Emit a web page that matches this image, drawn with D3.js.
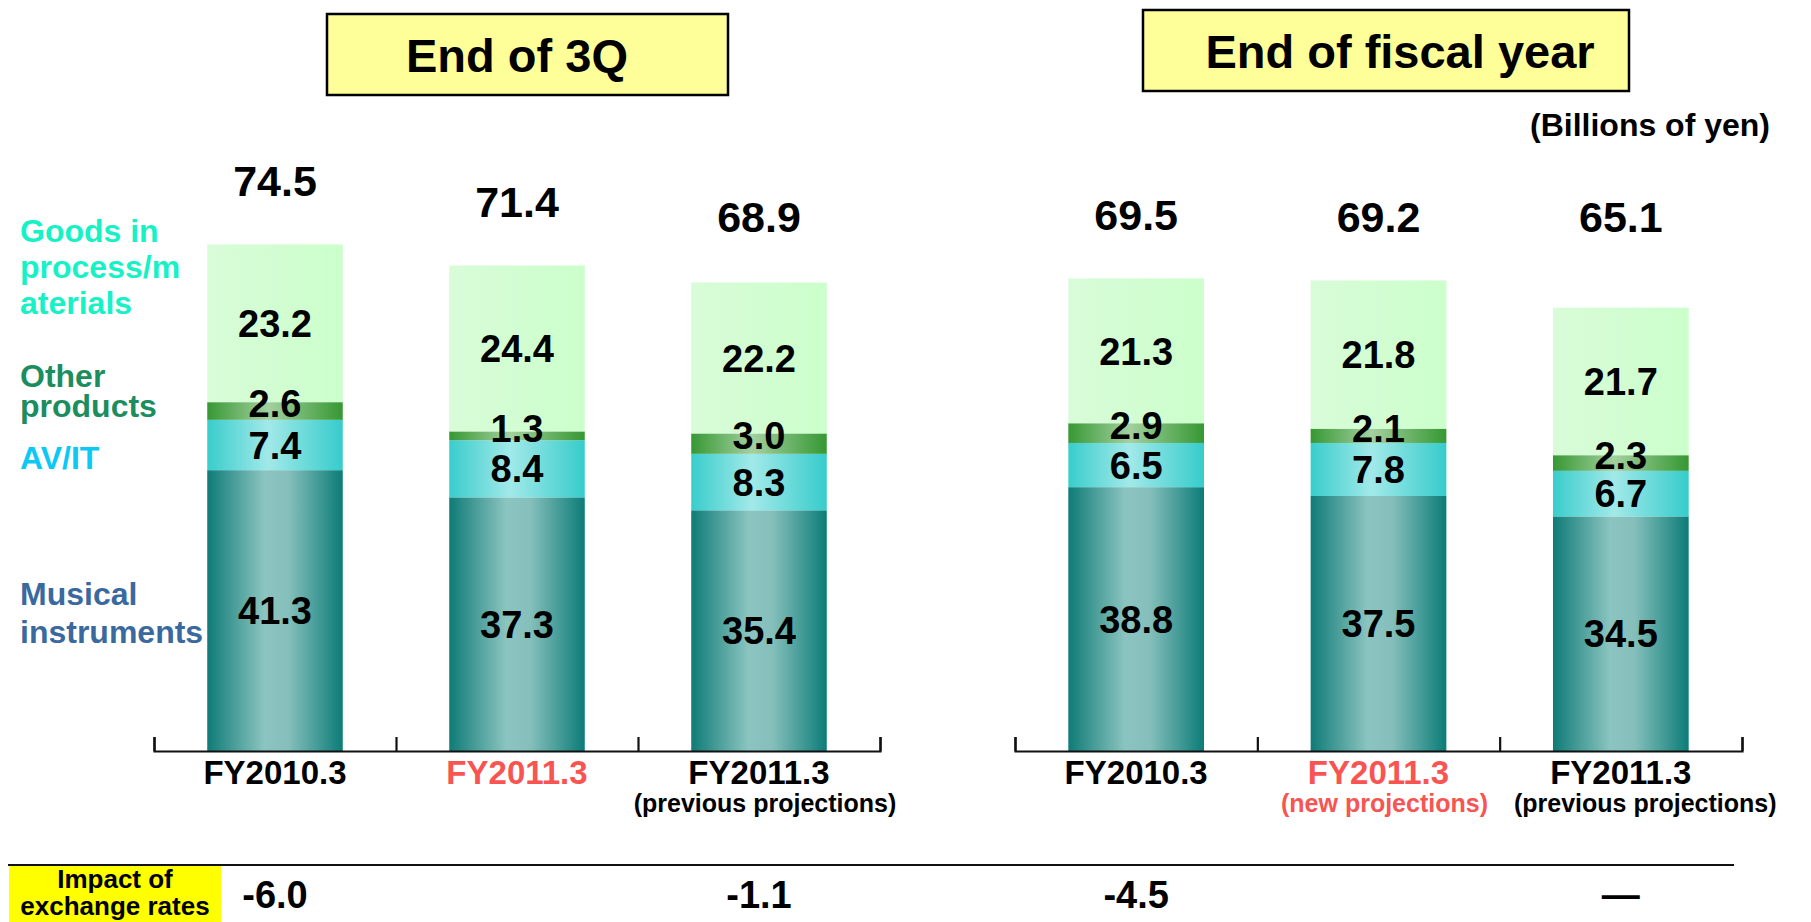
<!DOCTYPE html>
<html>
<head>
<meta charset="utf-8">
<script src="https://cdn.jsdelivr.net/npm/d3@7"></script>
<style>
body { margin: 0; background: #fff; }
text { font-family: "Liberation Sans", Arial, sans-serif; font-weight: bold; }
</style>
</head>
<body>
<svg id="chart" width="1811" height="922"></svg>
<script>
// inventories, billions of yen
var seriesKeys = ["musical", "avit", "other", "goods"];
var legendLines = [["Goods in", "process/m", "aterials"], ["Other", "products"], ["AV/IT"], ["Musical", "instruments"]];
var legendKeys = ["goods", "other", "avit", "musical"];

var q3Labels = ["FY2010.3", "FY2011.3", "FY2011.3"];
var q3Sub = ["", "", "(previous projections)"];
var q3Musical = [41.3, 37.3, 35.4];
var q3AvIt = [7.4, 8.4, 8.3];
var q3Other = [2.6, 1.3, 3.0];
var q3Goods = [23.2, 24.4, 22.2];
var q3Totals = [74.5, 71.4, 68.9];
var q3Impact = ["-6.0", "", "-1.1"];

var fyLabels = ["FY2010.3", "FY2011.3", "FY2011.3"];
var fySub = ["", "(new projections)", "(previous projections)"];
var fyMusical = [38.8, 37.5, 34.5];
var fyAvIt = [6.5, 7.8, 6.7];
var fyOther = [2.9, 2.1, 2.3];
var fyGoods = [21.3, 21.8, 21.7];
var fyTotals = [69.5, 69.2, 65.1];
var fyImpact = ["-4.5", "", "\u2014"];

var highlighted = [false, true, false];

var BASE_Y = 751;
var RED = "#F85452";

var svg = d3.select("#chart");
var defs = svg.append("defs");

function addGradient(id, stops) {

	var grad = defs.append("linearGradient").attr("id", id) //
	.attr("x1", "0").attr("x2", "1").attr("y1", "0").attr("y2", "0");

	grad.selectAll("stop").data(stops).enter().append("stop") //
	.attr("offset", function(d) {
		return (d[0]);
	}) //
	.attr("stop-color", function(d) {
		return (d[1]);
	});

}// END: addGradient

addGradient("grad-musical", [ [ 0, "#0F7B77" ], [ 0.42, "#8BC4C0" ], [ 0.6, "#85BFBB" ], [ 1, "#0C7C78" ] ]);
addGradient("grad-avit", [ [ 0, "#38CDCC" ], [ 0.45, "#A2E9E9" ], [ 1, "#36CCCB" ] ]);
addGradient("grad-other", [ [ 0, "#379834" ], [ 0.45, "#A3D09F" ], [ 1, "#369833" ] ]);
addGradient("grad-goods", [ [ 0, "#D8FCD8" ], [ 0.5, "#D2FDD2" ], [ 1, "#CBFFCB" ] ]);

var legendColors = {
	goods : "#16F2C6",
	other : "#1B8D5F",
	avit : "#0BC8F4",
	musical : "#39699E"
};

// small segments get their label nudged up a little
var labelNudge = {
	musical : 0,
	avit : 0,
	other : -8,
	goods : 0
};

var y = d3.scaleLinear().domain([ 0, 100 ]).range([ BASE_Y, BASE_Y - 680 ]);

var panels = [ {
	title : "End of 3Q",
	box : [ 327, 14, 401, 81 ],
	titleX : 517,
	titleY : 72,
	range : [ 154, 880 ],
	labels : q3Labels,
	sub : q3Sub,
	musical : q3Musical,
	avit : q3AvIt,
	other : q3Other,
	goods : q3Goods,
	totals : q3Totals,
	impact : q3Impact
}, {
	title : "End of fiscal year",
	box : [ 1143, 10, 486, 81 ],
	titleX : 1400,
	titleY : 68,
	range : [ 1015, 1742 ],
	labels : fyLabels,
	sub : fySub,
	musical : fyMusical,
	avit : fyAvIt,
	other : fyOther,
	goods : fyGoods,
	totals : fyTotals,
	impact : fyImpact
} ];

var stack = d3.stack().keys(seriesKeys);

panels.forEach(function(p) {

	var g = svg.append("g");

	// title box
	g.append("rect").attr("x", p.box[0]).attr("y", p.box[1]) //
	.attr("width", p.box[2]).attr("height", p.box[3]) //
	.attr("fill", "#FFFF99").attr("stroke", "#000").attr("stroke-width", 2.5);

	g.append("text").attr("x", p.titleX).attr("y", p.titleY) //
	.attr("text-anchor", "middle").attr("font-size", 47).text(p.title);

	var rows = p.labels.map(function(l, i) {
		return {
			musical : p.musical[i],
			avit : p.avit[i],
			other : p.other[i],
			goods : p.goods[i]
		};
	});

	var x = d3.scaleBand().domain(d3.range(rows.length)).range(p.range) //
	.paddingInner(0.44).paddingOuter(0.22);

	var layers = stack(rows);

	var layer = g.selectAll("g.layer").data(layers).enter().append("g") //
	.attr("class", "layer") //
	.attr("fill", function(d) {
		return ("url(#grad-" + d.key + ")");
	});

	layer.selectAll("rect").data(function(d) {
		return (d);
	}).enter().append("rect") //
	.attr("x", function(d, i) {
		return (x(i));
	}) //
	.attr("width", x.bandwidth()) //
	.attr("y", function(d) {
		return (y(d[1]));
	}) //
	.attr("height", function(d) {
		return (y(d[0]) - y(d[1]));
	});

	// segment values
	layers.forEach(function(ly) {
		g.selectAll(null).data(ly).enter().append("text") //
		.attr("x", function(d, i) {
			return (x(i) + x.bandwidth() / 2);
		}) //
		.attr("y", function(d) {
			return ((y(d[0]) + y(d[1])) / 2 + labelNudge[ly.key]);
		}) //
		.attr("dy", "0.36em") //
		.attr("text-anchor", "middle").attr("font-size", 38) //
		.text(function(d) {
			return (d.data[ly.key].toFixed(1));
		});
	});

	// totals
	g.selectAll(null).data(p.totals).enter().append("text") //
	.attr("x", function(d, i) {
		return (x(i) + x.bandwidth() / 2);
	}) //
	.attr("y", function(d) {
		return (Math.min(y(d) - 48, 232));
	}) //
	.attr("text-anchor", "middle").attr("font-size", 43) //
	.text(function(d) {
		return (d.toFixed(1));
	});

	// axis with upward ticks at band edges
	var edge = d3.scaleLinear().domain([ 0, rows.length ]).range(p.range);
	var axis = d3.axisBottom(edge).tickValues(d3.range(rows.length + 1)) //
	.tickSizeInner(-14).tickSizeOuter(-14).tickFormat("");

	var ax = g.append("g").attr("transform", "translate(0," + BASE_Y + ")").call(axis);
	ax.selectAll("path, line").attr("stroke", "#111").attr("stroke-width", 2.2);

	// category labels
	var prevRight = -Infinity;

	p.labels.forEach(function(l, i) {

		var cx = x(i) + x.bandwidth() / 2;
		var col = highlighted[i] ? RED : "#000";

		var t = g.append("text").attr("x", cx).attr("y", 784) //
		.attr("text-anchor", "middle").attr("font-size", 33) //
		.attr("fill", col).text(l);

		var w = t.node().getComputedTextLength();
		if (cx - w / 2 < p.range[0]) {
			t.attr("x", p.range[0] + w / 2);
		}

		if (p.sub[i]) {
			var s = g.append("text").attr("x", cx + 6).attr("y", 812) //
			.attr("text-anchor", "middle").attr("font-size", 25) //
			.attr("fill", col).text(p.sub[i]);

			// keep neighbouring sub lines apart
			var sw = s.node().getComputedTextLength();
			var sx = cx + 6;
			if (sx - sw / 2 < prevRight + 26) {
				sx = prevRight + 26 + sw / 2;
				s.attr("x", sx);
			}
			prevRight = sx + sw / 2;
		}

		if (p.impact[i]) {
			g.append("text").attr("x", cx).attr("y", 908) //
			.attr("text-anchor", "middle").attr("font-size", 38) //
			.text(p.impact[i]);
		}
	});

});// END: panels loop

// legend down the left side
var legendLayout = {
	goods : [ 242, 36 ],
	other : [ 387, 30 ],
	avit : [ 469, 0 ],
	musical : [ 605, 38 ]
};

legendKeys.forEach(function(k, i) {
	var t = svg.append("text").attr("x", 20).attr("font-size", 32) //
	.attr("fill", legendColors[k]);
	legendLines[i].forEach(function(line, j) {
		t.append("tspan").attr("x", 20) //
		.attr("y", legendLayout[k][0] + j * legendLayout[k][1]).text(line);
	});
});

svg.append("text").attr("x", 1770).attr("y", 136) //
.attr("text-anchor", "end").attr("font-size", 32).text("(Billions of yen)");

// exchange rate row
svg.append("line").attr("x1", 8).attr("x2", 1734).attr("y1", 865).attr("y2", 865) //
.attr("stroke", "#111").attr("stroke-width", 2);

svg.append("rect").attr("x", 9).attr("y", 866).attr("width", 212).attr("height", 60) //
.attr("fill", "#FFFF00");

svg.append("text").attr("x", 115).attr("text-anchor", "middle").attr("font-size", 26) //
.selectAll("tspan").data([ "Impact of", "exchange rates" ]).enter().append("tspan") //
.attr("x", 115) //
.attr("y", function(d, i) {
	return (888 + i * 27);
}) //
.text(function(d) {
	return (d);
});
</script>
</body>
</html>
